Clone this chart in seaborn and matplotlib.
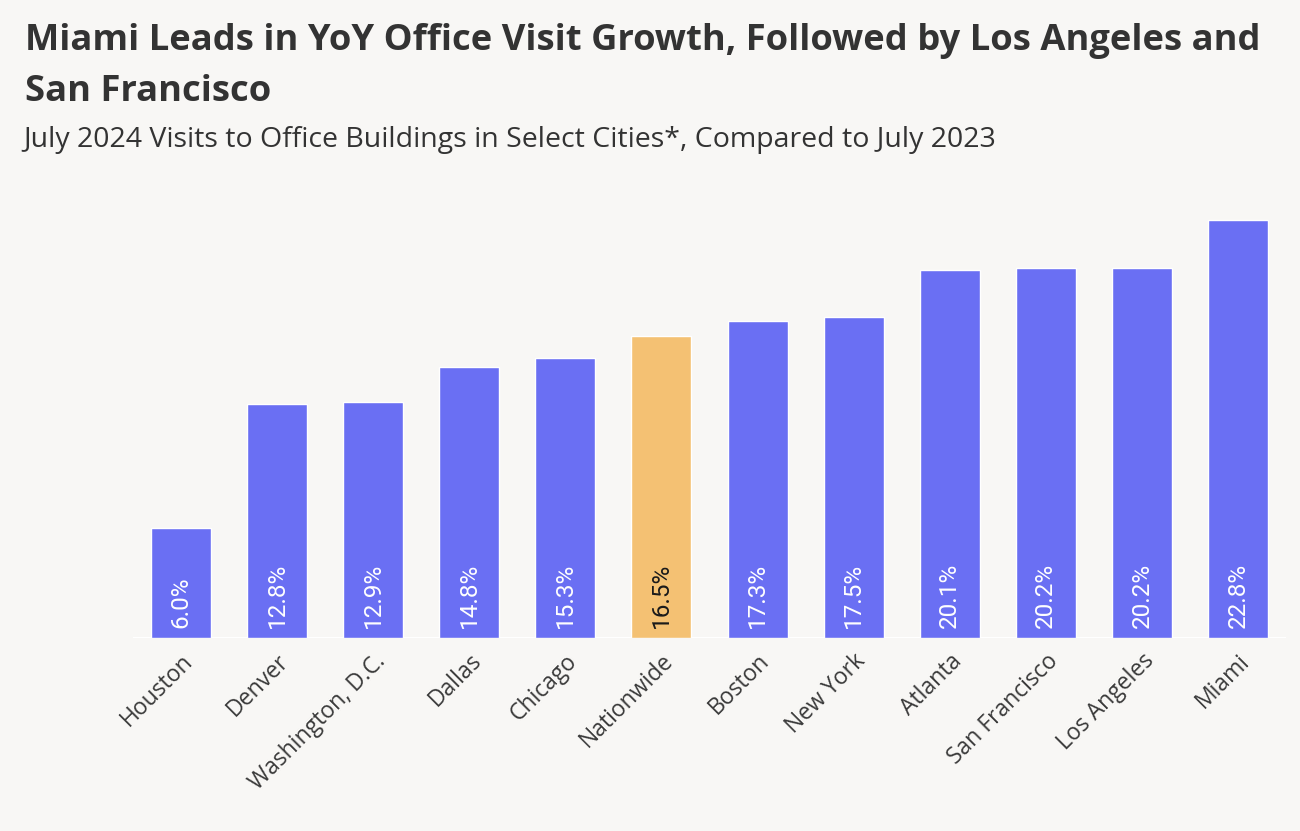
import matplotlib.pyplot as plt
import pandas as pd
import seaborn as sns

cities = ["Houston", "Denver", "Washington, D.C.", "Dallas", "Chicago",
          "Nationwide", "Boston", "New York", "Atlanta", "San Francisco",
          "Los Angeles", "Miami"]
growth = [6.0, 12.8, 12.9, 14.8, 15.3, 16.5, 17.3, 17.5, 20.1, 20.2, 20.2, 22.8]
highlight = "Nationwide"

BG = "#f8f7f5"
BLUE = "#6a6ff3"
GOLD = "#f4c173"

sns.set_theme(style="white")
plt.rcParams["font.family"] = ["Open Sans", "DejaVu Sans"]

df = pd.DataFrame({"city": cities, "growth": growth})
palette = {c: (GOLD if c == highlight else BLUE) for c in cities}

fig = plt.figure(figsize=(13, 8.31), dpi=100, facecolor=BG)
ax = fig.add_axes([133 / 1300, 1 - 638 / 831, (1286 - 133) / 1300, 425 / 831])
ax.set_facecolor(BG)

sns.barplot(data=df, x="city", y="growth", hue="city", palette=palette,
            width=0.625, saturation=1, legend=False, ax=ax)

ax.set_ylim(0, 23.2)
ax.set_xlim(-0.5, len(cities) - 0.5)
ax.axhline(0, color="#ffffff", lw=1.5, zorder=0)

# value labels inside the bars, reading bottom to top
for i, (c, v) in enumerate(zip(cities, growth)):
    ax.annotate(f"{v:.1f}%", (i, 0), xytext=(0, 7), textcoords="offset points",
                rotation=90, ha="center", va="bottom", fontsize=17.5,
                fontfamily="Roboto", fontweight="normal",
                color="#1a1a1a" if c == highlight else "white")

ax.set_yticks([])
ax.set_xlabel("")
ax.set_ylabel("")
ax.tick_params(axis="x", length=0, pad=8)
for lab in ax.get_xticklabels():
    lab.set_rotation(45)
    lab.set_ha("right")
    lab.set_rotation_mode("anchor")
    lab.set_fontsize(16.5)
    lab.set_color("#3a3a3a")
sns.despine(ax=ax, left=True, bottom=True)

fig.text(25 / 1300, 1 - 23 / 831,
         "Miami Leads in YoY Office Visit Growth, Followed by Los Angeles and\nSan Francisco",
         ha="left", va="top", fontsize=26.2, fontweight="bold", color="#333333",
         linespacing=1.57)
fig.text(23 / 1300, 1 - 126 / 831,
         "July 2024 Visits to Office Buildings in Select Cities*, Compared to July 2023",
         ha="left", va="top", fontsize=20.5, color="#333333")

fig.savefig("out.png", dpi=100, facecolor=BG)
